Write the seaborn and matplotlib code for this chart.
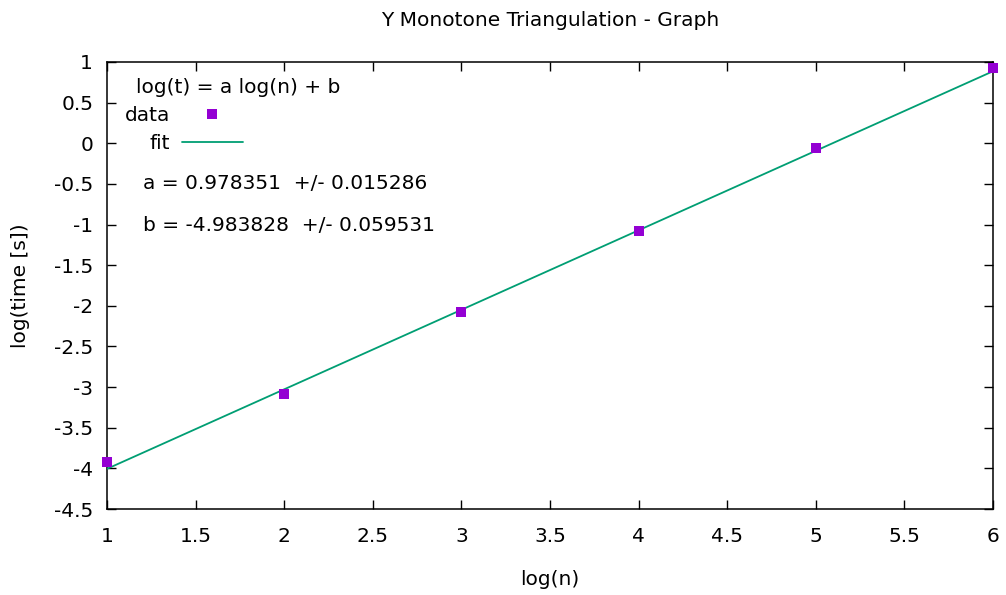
import numpy as np
import matplotlib
matplotlib.use("Agg")
import matplotlib.pyplot as plt
from matplotlib.ticker import FixedLocator, FuncFormatter
from matplotlib.lines import Line2D
import pandas as pd
import seaborn as sns

# Measured run times (log10 scale) for the Y-monotone triangulation
log_n = [1, 2, 3, 4, 5, 6]
log_t = [-3.92, -3.08, -2.08, -1.08, -0.06, 0.93]

# Least-squares fit parameters log(t) = a log(n) + b
fit_a, fit_a_err = 0.978351, 0.015286
fit_b, fit_b_err = -4.983828, 0.059531

x_ticks = [1, 1.5, 2, 2.5, 3, 3.5, 4, 4.5, 5, 5.5, 6]
y_ticks = [-4.5, -4, -3.5, -3, -2.5, -2, -1.5, -1, -0.5, 0, 0.5, 1]

sns.set_style("ticks")
plt.rcParams["font.family"] = ["DejaVu Sans"]
plt.rcParams["axes.unicode_minus"] = False
for key in ("text.color", "axes.labelcolor", "xtick.color", "ytick.color", "axes.edgecolor"):
    plt.rcParams[key] = "black"

fig = plt.figure(figsize=(10.06, 5.95), dpi=100)
ax = fig.add_axes([0.1064, 0.1445, 0.8807, 0.7513])

data = pd.DataFrame({"log_n": log_n, "log_t": log_t})
fit_x = np.array([min(log_n), max(log_n)], dtype=float)
fit = pd.DataFrame({"log_n": fit_x, "log_t": fit_a * fit_x + fit_b})

purple = "#9400D3"
green = "#009E73"

sns.lineplot(data=fit, x="log_n", y="log_t", ax=ax, color=green, lw=1.3, zorder=3)
sns.scatterplot(data=data, x="log_n", y="log_t", ax=ax, color=purple, marker="s",
                s=55, linewidth=0, zorder=4, clip_on=False)

ax.set_xlim(1, 6)
ax.set_ylim(-4.5, 1)
ax.xaxis.set_major_locator(FixedLocator(x_ticks))
ax.yaxis.set_major_locator(FixedLocator(y_ticks))
fmt = FuncFormatter(lambda v, p: "%g" % v)
ax.xaxis.set_major_formatter(fmt)
ax.yaxis.set_major_formatter(fmt)

fs = 14.5
ax.tick_params(direction="in", top=True, right=True, length=6.5, width=1,
               labelsize=fs, colors="black")
ax.tick_params(axis="x", pad=13)
ax.tick_params(axis="y", pad=10)
for sp in ax.spines.values():
    sp.set_visible(True)
    sp.set_color("black")
    sp.set_linewidth(1.1)

ax.set_xlabel("log(n)", fontsize=fs, labelpad=17)
ax.set_ylabel("log(time [s])", fontsize=fs, labelpad=17)
ax.set_title("Y Monotone Triangulation - Graph", fontsize=fs, pad=26)

handles = [
    Line2D([], [], color=purple, marker="s", markersize=7.5, lw=0, markeredgewidth=0),
    Line2D([], [], color=green, lw=1.3),
]
leg = ax.legend(handles, ["data", "fit"], title="log(t) = a log(n) + b",
                loc="upper left", bbox_to_anchor=(0.02, 0.964), frameon=False,
                markerfirst=False, fontsize=fs, title_fontsize=fs, alignment="left",
                handlelength=3.0, handletextpad=0.6, labelspacing=0.45, borderpad=0,
                borderaxespad=0)
leg._legend_title_box._text.set_x(8 / 0.72)

ax.text(0.041, 0.729, "a = %.6f  +/- %.6f" % (fit_a, fit_a_err), transform=ax.transAxes,
        fontsize=fs, va="center", ha="left")
ax.text(0.041, 0.635, "b = %.6f  +/- %.6f" % (fit_b, fit_b_err), transform=ax.transAxes,
        fontsize=fs, va="center", ha="left")

fig.savefig("out.png", dpi=100, facecolor="white")
